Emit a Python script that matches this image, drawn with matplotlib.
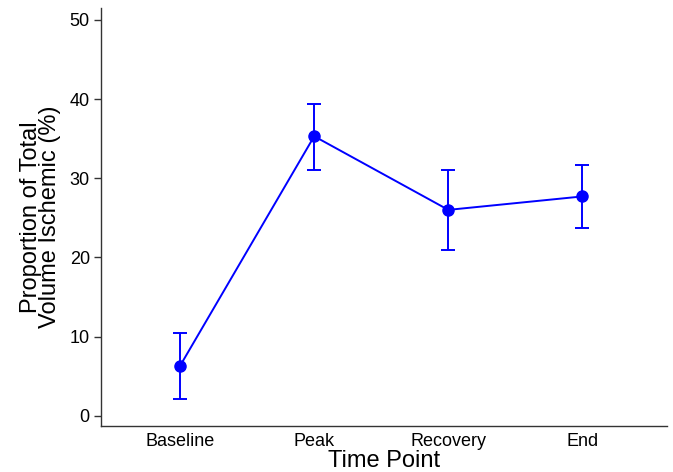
import numpy as np
import matplotlib
matplotlib.use('Agg')
import matplotlib.pyplot as plt

plt.rcParams['font.family'] = ['Liberation Sans', 'DejaVu Sans']

timepoints = ['Baseline', 'Peak', 'Recovery', 'End']
mean_pct = [6.3, 35.3, 26.0, 27.7]
err_low = [2.1, 31.1, 20.9, 23.7]
err_high = [10.5, 39.4, 31.1, 31.7]

x = np.arange(1, len(timepoints) + 1)
mean_arr = np.array(mean_pct)
yerr = [mean_arr - np.array(err_low), np.array(err_high) - mean_arr]

fig = plt.figure(figsize=(6.73, 4.72), dpi=100)
ax = fig.add_axes([0.150, 0.0975, 0.841, 0.8855])

ax.errorbar(x, mean_arr, yerr=yerr, color='#0000ff', linewidth=1.4,
            marker='o', markersize=8, capsize=5, capthick=1.4, elinewidth=1.4)

ax.set_xlim(0.41, 4.63)
ax.set_ylim(-1.3, 51.5)
ax.set_xticks(x)
ax.set_xticklabels(timepoints)
ax.set_yticks([0, 10, 20, 30, 40, 50])

for s in ['top', 'right']:
    ax.spines[s].set_visible(False)
for s in ['left', 'bottom']:
    ax.spines[s].set_color('#333333')
    ax.spines[s].set_linewidth(1.0)

ax.tick_params(axis='y', direction='out', length=5, width=1, color='#333333',
               labelsize=13, labelcolor='black', pad=3)
ax.tick_params(axis='x', length=0, labelsize=13, labelcolor='black', pad=5)

ax.set_xlabel('Time Point', fontsize=17, labelpad=0)
ax.set_ylabel('Proportion of Total\nVolume Ischemic (%)', fontsize=17,
              linespacing=0.85, labelpad=6)

fig.savefig('out.png', dpi=100)
